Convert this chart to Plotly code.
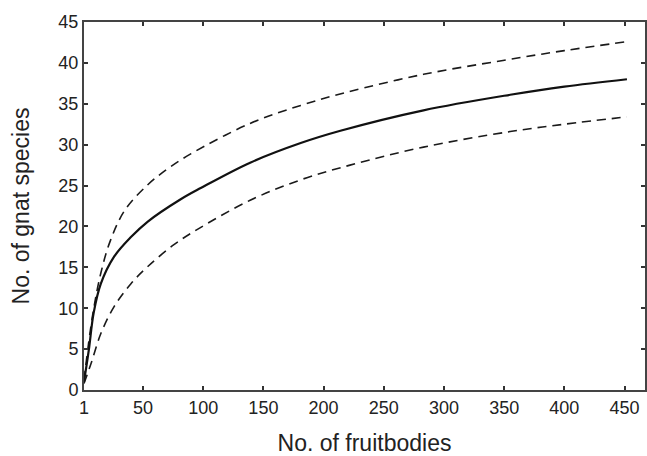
import plotly.graph_objects as go

# Rarefaction curve (expected species) and 95% confidence bounds
x_mean = [1, 5, 9, 15, 26, 40, 54, 81, 98, 139, 181, 214, 283, 355, 400, 452]
y_mean = [1.0, 4.9, 9.4, 13.0, 16.3, 18.7, 20.6, 23.3, 24.7, 27.8, 30.2, 31.7, 34.2, 36.1, 37.1, 38.0]

x_upper = [1, 8, 15, 23, 35, 54, 71, 90, 139, 181, 219, 283, 349, 400, 452]
y_upper = [1.2, 9.0, 14.3, 18.3, 22.0, 25.1, 27.1, 28.9, 32.6, 34.8, 36.4, 38.6, 40.3, 41.5, 42.6]

x_lower = [1, 7, 15, 26, 40, 54, 76, 97, 139, 181, 222, 283, 355, 400, 452]
y_lower = [0.8, 3.3, 6.9, 10.2, 13.0, 15.1, 17.8, 19.8, 23.2, 25.7, 27.5, 29.7, 31.6, 32.5, 33.4]

x_ticks = [1, 50, 100, 150, 200, 250, 300, 350, 400, 450]
y_ticks = [0, 5, 10, 15, 20, 25, 30, 35, 40, 45]

FONT = "Liberation Sans, Arial, sans-serif"

fig = go.Figure()
fig.add_trace(go.Scatter(x=x_upper, y=y_upper, mode="lines",
                         line=dict(color="#1a1a1a", width=1.6, dash="9px,6px", shape="spline", smoothing=1.0),
                         showlegend=False))
fig.add_trace(go.Scatter(x=x_lower, y=y_lower, mode="lines",
                         line=dict(color="#1a1a1a", width=1.6, dash="9px,6px", shape="spline", smoothing=1.0),
                         showlegend=False))
fig.add_trace(go.Scatter(x=x_mean, y=y_mean, mode="lines",
                         line=dict(color="#111111", width=2.2, shape="spline", smoothing=1.0),
                         showlegend=False))

axis_common = dict(
    showgrid=False, zeroline=False, showline=True, linecolor="#444444", linewidth=2,
    mirror="ticks", ticks="inside", ticklen=4, tickwidth=1.5, tickcolor="#333333",
    automargin=False,
    tickfont=dict(family=FONT, size=18, color="#222222"),
)

fig.update_layout(
    width=647, height=456,
    margin=dict(l=84, r=2, t=22, b=66),
    paper_bgcolor="white", plot_bgcolor="white",
    font=dict(family=FONT, color="#222222"),
    xaxis=dict(range=[1, 467], tickvals=x_ticks, ticktext=[str(v) for v in x_ticks],
               title=dict(text="No. of fruitbodies", font=dict(size=23), standoff=18),
               **axis_common),
    yaxis=dict(range=[0, 45], tickvals=y_ticks,
               title=dict(text="No. of gnat species", font=dict(size=23), standoff=22),
               **axis_common),
)

fig.write_html(
    "out.html",
    config={"displayModeBar": False},
    post_script="document.body.style.margin='0';document.body.style.padding='0';"
                "document.body.style.overflow='hidden';",
)
